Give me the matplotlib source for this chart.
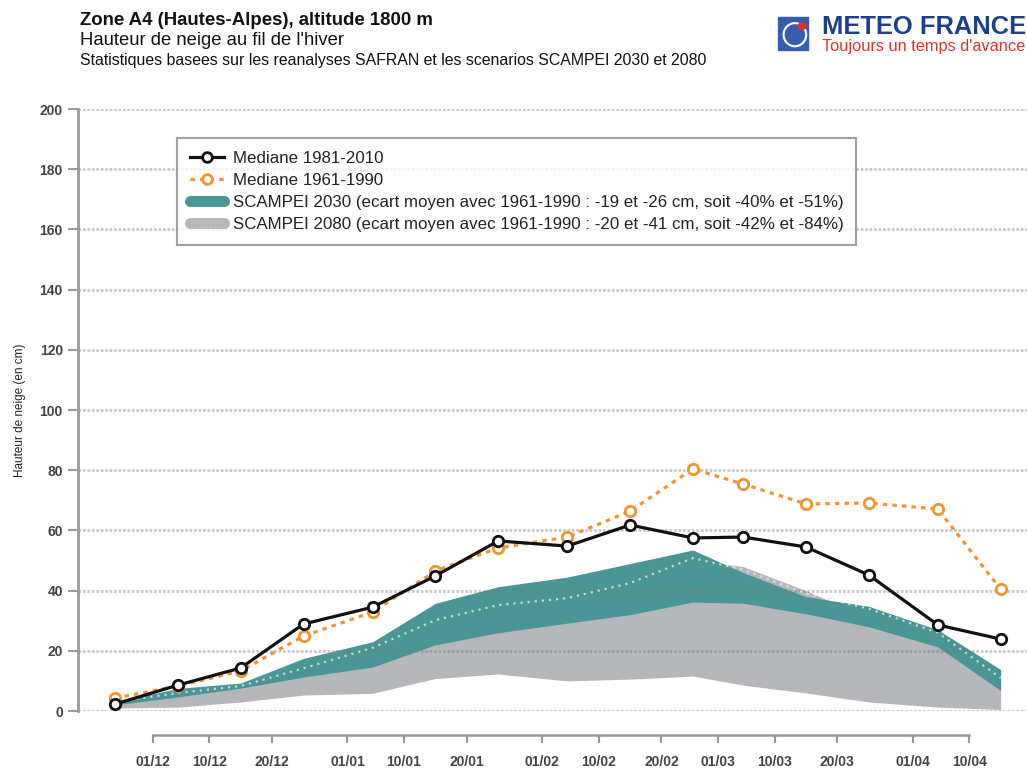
import numpy as np
import pandas as pd
import matplotlib
matplotlib.use('Agg')
import matplotlib.pyplot as plt
import matplotlib.dates as mdates
import matplotlib.patches as mpatches
from matplotlib.lines import Line2D

plt.rcParams['font.family'] = ['Liberation Sans', 'DejaVu Sans']

# dates of the points (centre of each decade) and of the axis ticks
point_days = ['25/11', '05/12', '15/12', '25/12', '05/01', '15/01', '25/01', '05/02',
              '15/02', '25/02', '05/03', '15/03', '25/03', '05/04', '15/04']
tick_days = ['01/12', '10/12', '20/12', '01/01', '10/01', '20/01', '01/02', '10/02',
             '20/02', '01/03', '10/03', '20/03', '01/04', '10/04']

med_1981_2010 = [2.3, 8.6, 14.3, 28.9, 34.5, 44.9, 56.5, 54.8, 61.8, 57.5, 57.8, 54.5, 45.2, 28.6, 23.9]
med_1961_1990 = [4.3, 8.3, 13.3, 24.9, 32.9, 46.5, 54.2, 57.8, 66.4, 80.4, 75.4, 68.8, 69.1, 67.1, 40.5]

scampei2030_lo = [2.0, 4.7, 7.6, 11.3, 14.6, 22.0, 26.0, 29.2, 32.0, 36.2, 35.8, 32.3, 28.0, 21.3, 6.8]
scampei2030_hi = [3.0, 7.5, 9.3, 17.5, 23.0, 35.8, 41.3, 44.5, 49.0, 53.5, 46.0, 38.0, 34.8, 27.0, 13.8]
scampei2030_med = [3.0, 6.0, 8.3, 14.2, 21.0, 30.2, 35.2, 37.5, 42.5, 50.8, 47.0, 39.0, 34.0, 26.0, 11.0]
scampei2080_lo = [1.0, 1.3, 3.0, 5.3, 5.9, 10.8, 12.3, 10.0, 10.6, 11.6, 8.6, 6.0, 3.0, 1.3, 0.5]
scampei2080_hi = [2.5, 6.0, 8.5, 14.0, 19.0, 29.0, 33.0, 36.0, 40.0, 50.0, 48.0, 40.0, 31.0, 24.0, 12.8]

labels = ['Mediane 1981-2010',
          'Mediane 1961-1990',
          'SCAMPEI 2030 (ecart moyen avec 1961-1990 : -19 et -26 cm, soit -40% et -51%)',
          'SCAMPEI 2080 (ecart moyen avec 1961-1990 : -20 et -41 cm, soit -42% et -84%)']


def to_date(s):
    d, m = s.split('/')
    year = 2009 if int(m) >= 9 else 2010
    return pd.Timestamp(year=year, month=int(m), day=int(d))


x = [to_date(s) for s in point_days]
xt = [to_date(s) for s in tick_days]

teal = '#4a9696'
grey = '#b5b7ba'
orange = '#f39431'

fig = plt.figure(figsize=(10.27, 7.71), dpi=100)
ax = fig.add_axes([0.076, 0.0778, 0.924, 0.7808])

ax.fill_between(x, scampei2080_lo, scampei2080_hi, color=grey, lw=0)
ax.fill_between(x, scampei2030_lo, scampei2030_hi, color=teal, lw=0)
ax.plot(x, scampei2030_med, color='#e6e6e6', lw=1.6, ls=(0, (1, 2.2)), alpha=0.8)

ax.plot(x, med_1961_1990, color=orange, lw=2.3, ls=(0, (1.4, 1.6)), marker='o',
        ms=7.5, mfc='white', mec=orange, mew=2.0, zorder=4)
ax.plot(x, med_1981_2010, color='#111111', lw=2.3, marker='o',
        ms=7.5, mfc='white', mec='#111111', mew=2.0, zorder=5)

ax.set_ylim(0, 200)
ax.set_yticks(np.arange(0, 201, 20))
ax.set_xlim(xt[0] - pd.Timedelta(days=11.9), xt[0] + pd.Timedelta(days=139.2))
ax.set_xticks(xt)
ax.set_xticklabels(tick_days)

ax.yaxis.grid(True, color='#7a7a7a', alpha=0.4, lw=2.0, ls=(0, (1, 0.6)))

for s in ['top', 'right']:
    ax.spines[s].set_visible(False)
ax.spines['left'].set_bounds(0, 200)
ax.spines['left'].set_color('#999999')
ax.spines['left'].set_linewidth(2.0)
ax.spines['bottom'].set_position(('outward', 17))
ax.spines['bottom'].set_bounds(mdates.date2num(xt[0]), mdates.date2num(xt[-1]))
ax.spines['bottom'].set_color('#999999')
ax.spines['bottom'].set_linewidth(1.8)

ax.tick_params(axis='y', direction='out', length=7, width=1.5, color='#999999',
               labelsize=10, labelcolor='#444444', pad=4)
ax.tick_params(axis='x', direction='out', length=6, width=1.5, color='#999999',
               labelsize=10, labelcolor='#444444', pad=9)
for t in ax.get_xticklabels() + ax.get_yticklabels():
    t.set_fontweight('bold')

ax.set_ylabel('Hauteur de neige (en cm)', fontsize=8.5, color='#222222', labelpad=10)

handles = [Line2D([], [], color='#111111', lw=2.3, marker='o', ms=7, mfc='white', mec='#111111', mew=2),
           Line2D([], [], color=orange, lw=2.3, ls=(0, (1.4, 1.6)), marker='o', ms=7, mfc='white', mec=orange, mew=2),
           Line2D([], [], color=teal, lw=8, solid_capstyle='round'),
           Line2D([], [], color=grey, lw=8, solid_capstyle='round')]
leg = fig.legend(handles, labels, loc='upper left', bbox_to_anchor=(0.1723, 0.821),
                 fontsize=12.2, frameon=True, fancybox=False, edgecolor='#8a8a8a',
                 handlelength=2.0, handletextpad=0.55, labelspacing=0.42, borderpad=0.75,
                 borderaxespad=0)
leg.get_frame().set_linewidth(1.5)
for t in leg.get_texts():
    t.set_color('#222222')

# titles
fig.text(0.078, 0.974, 'Zone A4 (Hautes-Alpes), altitude 1800 m', fontsize=13.4,
         fontweight='bold', color='#111111', va='center')
fig.text(0.078, 0.948, "Hauteur de neige au fil de l'hiver", fontsize=13.3,
         color='#111111', va='center')
fig.text(0.078, 0.922, 'Statistiques basees sur les reanalyses SAFRAN et les scenarios SCAMPEI 2030 et 2080',
         fontsize=11.4, color='#111111', va='center')

# logo
icon = mpatches.Rectangle((0.7575, 0.935), 0.029, 0.043, transform=fig.transFigure,
                          color='#3a5cb0', zorder=5)
fig.patches.append(icon)
ring = mpatches.Ellipse((0.774, 0.955), 0.022, 0.03, transform=fig.transFigure,
                        fill=False, ec='white', lw=1.5, zorder=6)
fig.patches.append(ring)
dot = mpatches.Circle((0.781, 0.966), 0.004, transform=fig.transFigure,
                      color='#e0332a', zorder=7)
fig.patches.append(dot)
fig.text(0.800, 0.965, 'METEO FRANCE', fontsize=18.4, fontweight='bold',
         color='#1d3f8f', va='center')
fig.text(0.800, 0.940, "Toujours un temps d'avance", fontsize=11.8,
         color='#e0332a', va='center')

fig.savefig('out.png', dpi=100)
